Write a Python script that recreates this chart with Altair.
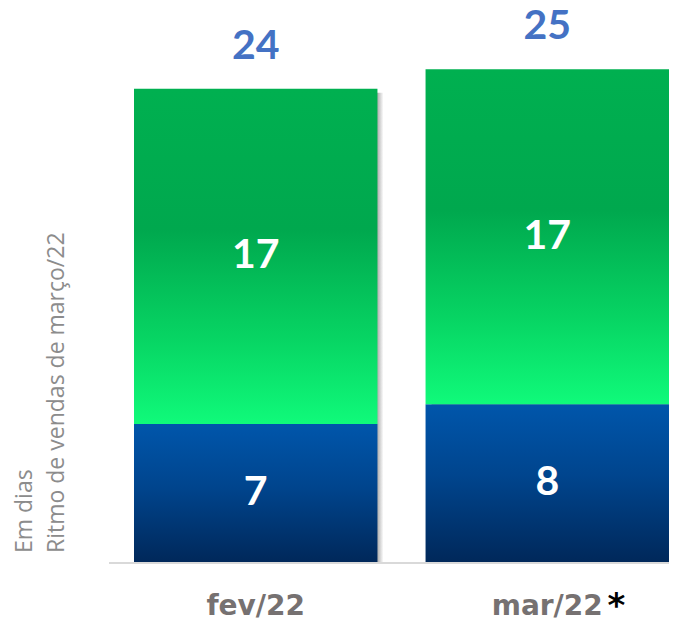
import altair as alt
import pandas as pd

# ---- data ----
months = ["fev/22", "mar/22"]
base_days = [7, 8]          # blue (bottom) segment
top_days = [17, 17]         # green (top) segment
totals = [24, 25]           # totals shown above bars
y_title_lines = ["Em dias", "Ritmo de vendas de março/22"]
asterisk_month = "mar/22"

rows = []
for m, b, t in zip(months, base_days, top_days):
    rows.append({"mes": m, "seg": "base", "start": 0, "end": b, "val": b})
    rows.append({"mes": m, "seg": "topo", "start": b, "end": b + t, "val": t})
seg_df = pd.DataFrame(rows)
seg_df["mid"] = (seg_df["start"] + seg_df["end"]) / 2
tot_df = pd.DataFrame({"mes": months, "total": totals})

PLOT_W, PLOT_H = 560, 552

x_enc = alt.X("mes:N", sort=months,
              scale=alt.Scale(domain=months, range=[25, 560], paddingInner=0.165, paddingOuter=0),
              axis=None)
y_scale = alt.Scale(domain=[0, 28], nice=False, zero=True)

blue_grad = alt.LinearGradient(gradient="linear", x1=0, x2=0, y1=0, y2=1, stops=[
    alt.GradientStop(color="#0056ab", offset=0),
    alt.GradientStop(color="#00458e", offset=0.45),
    alt.GradientStop(color="#00285a", offset=1),
])
green_grad = alt.LinearGradient(gradient="linear", x1=0, x2=0, y1=0, y2=1, stops=[
    alt.GradientStop(color="#00b050", offset=0),
    alt.GradientStop(color="#00a84e", offset=0.42),
    alt.GradientStop(color="#07d463", offset=0.74),
    alt.GradientStop(color="#10fa7a", offset=1),
])
shadow_grad = alt.LinearGradient(gradient="linear", x1=0, x2=1, y1=0, y2=0, stops=[
    alt.GradientStop(color="#8a8a8a", offset=0),
    alt.GradientStop(color="#9a9a9a", offset=0.975),
    alt.GradientStop(color="#ffffff", offset=1),
])

shadow = alt.Chart(tot_df).transform_calculate(
    top="datum.total - 0.2", zero="0"
).mark_bar(fill=shadow_grad, opacity=0.8, xOffset=6).encode(
    x=x_enc,
    y=alt.Y("top:Q", scale=y_scale, axis=None),
    y2="zero:Q",
)

base_bars = alt.Chart(seg_df).transform_filter("datum.seg == 'base'").mark_bar(fill=blue_grad).encode(
    x=x_enc,
    y=alt.Y("start:Q", scale=y_scale, axis=None),
    y2="end:Q",
)
top_bars = alt.Chart(seg_df).transform_filter("datum.seg == 'topo'").mark_bar(fill=green_grad).encode(
    x=x_enc,
    y=alt.Y("start:Q", scale=y_scale, axis=None),
    y2="end:Q",
)

seg_labels = alt.Chart(seg_df).mark_text(
    font="Lato", fontWeight="bold", fontSize=41, color="white", baseline="middle", align="center"
).encode(
    x=x_enc,
    y=alt.Y("mid:Q", scale=y_scale, axis=None),
    text="val:Q",
)

tot_labels = alt.Chart(tot_df).mark_text(
    font="Lato", fontWeight="bold", fontSize=41, color="#4472c4", baseline="middle", align="center", dy=-42
).encode(
    x=x_enc,
    y=alt.Y("total:Q", scale=y_scale, axis=None),
    text="total:Q",
)

axis_line = alt.Chart(alt.Data(values=[{}])).mark_rule(color="#d9d9d9", strokeWidth=2).encode(
    x=alt.value(0), x2=alt.value(PLOT_W), y=alt.value(553)
)

x_labels = alt.Chart(tot_df).mark_text(
    font="DejaVu Sans", fontWeight="bold", fontSize=28, color="#767171", baseline="alphabetic", align="center"
).encode(
    x=x_enc,
    y=alt.value(605),
    text="mes:N",
)

star = alt.Chart(pd.DataFrame({"mes": [asterisk_month], "s": ["*"]})).mark_text(
    font="DejaVu Sans", fontWeight="bold", fontSize=34, color="black", baseline="alphabetic", align="center", dx=69
).encode(
    x=x_enc,
    y=alt.value(607),
    text="s:N",
)

yt1 = alt.Chart(pd.DataFrame({"t": [y_title_lines[0]]})).mark_text(
    font="Open Sans", fontSize=23, color="#8c8c8c", angle=270, align="left", baseline="middle"
).encode(x=alt.value(-84), y=alt.value(543), text="t:N")
yt2 = alt.Chart(pd.DataFrame({"t": [y_title_lines[1]]})).mark_text(
    font="Open Sans", fontSize=23, color="#8c8c8c", angle=270, align="left", baseline="middle"
).encode(x=alt.value(-52), y=alt.value(543), text="t:N")

chart = alt.layer(
    shadow, base_bars, top_bars, axis_line, seg_labels, tot_labels, x_labels, star, yt1, yt2
).properties(
    width=PLOT_W, height=PLOT_H,
    background="white",
    padding={"left": 101, "top": 2, "right": 0, "bottom": 58},
    autosize=alt.AutoSizeParams(type="none"),
).configure_view(strokeWidth=0, stroke="transparent")

chart.save("out.html", embed_options={"renderer": "svg", "actions": False})
